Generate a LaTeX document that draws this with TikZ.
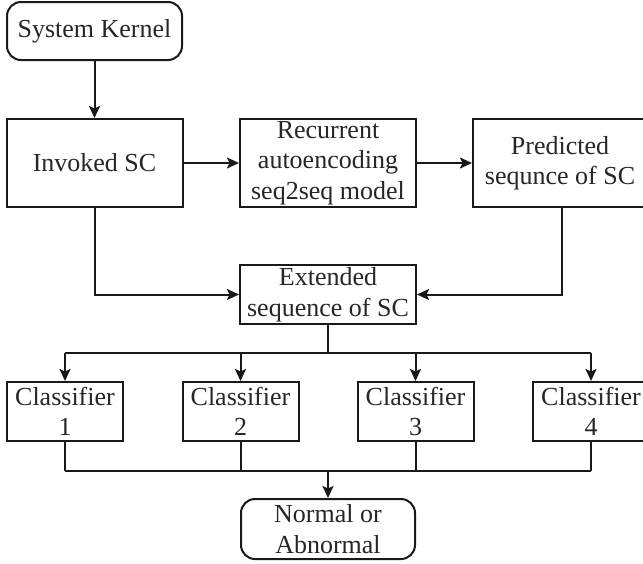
\documentclass[tikz,border=0pt]{standalone}
\usepackage{fontspec}
\setmainfont{Liberation Serif}
\usetikzlibrary{arrows.meta}
\begin{document}
\begin{tikzpicture}[x=1pt,y=-1pt,
  every node/.style={font=\fontsize{26}{30.5}\selectfont, text=black!85, align=center, inner sep=0pt},
  box/.style={draw=black!90, minimum width=#1, line width=2pt},
  box/.default=176pt,
  rbox/.style={draw=black!90, rounded corners=14pt, minimum width=175pt, line width=2pt},
  link/.style={draw=black!90, line width=2pt},
  arr/.style={link, -{Stealth[length=12pt,width=11pt,inset=2.5pt]}}]
\useasboundingbox (0,0) rectangle (643,563);

% process chain
\node[rbox, minimum height=58pt] (sk) at (94.5,31) {System Kernel};
\node[box, minimum height=88pt] (inv) at (94.5,163) {Invoked SC};
\node[box, minimum height=88pt] (rec) at (328,163) {Recurrent\\autoencoding\\seq2seq model};
\node[box=174pt, minimum height=88pt] (pred) at (560,163) {Predicted\\sequnce of SC};
\node[box, minimum height=59pt] (ext) at (328,294.5) {Extended\\sequence of SC};

% classifiers
\node[box=116pt, minimum height=59pt] (c1) at (65,411.5) {Classifier\\1};
\node[box=116pt, minimum height=59pt] (c2) at (240.5,411.5) {Classifier\\2};
\node[box=116pt, minimum height=59pt] (c3) at (415.5,411.5) {Classifier\\3};
\node[box=116pt, minimum height=59pt] (c4) at (591,411.5) {Classifier\\4};

\node[rbox, minimum width=174pt, minimum height=60pt] (nor) at (328,529) {Normal or\\Abnormal};

% junction points
\coordinate (split) at (328,353);
\coordinate (merge) at (328,471);

\draw[arr] (sk.south) -- (inv.north);
\draw[arr] (inv.east) -- (rec.west);
\draw[arr] (rec.east) -- (pred.west);
\draw[arr] (inv.south) |- (ext.west);
\draw[arr] (562,207) |- (ext.east);

\draw[link] (ext.south) -- (split);
\draw[link] (c1.north |- split) -- (c4.north |- split);
\foreach \c in {c1,c2,c3,c4}
  \draw[arr] (\c.north |- split) -- (\c.north);

\foreach \c in {c1,c2,c3,c4}
  \draw[link] (\c.south) -- (\c.south |- merge);
\draw[link] (c1.south |- merge) -- (c4.south |- merge);
\draw[arr] (merge) -- (nor.north);
\end{tikzpicture}
\end{document}
